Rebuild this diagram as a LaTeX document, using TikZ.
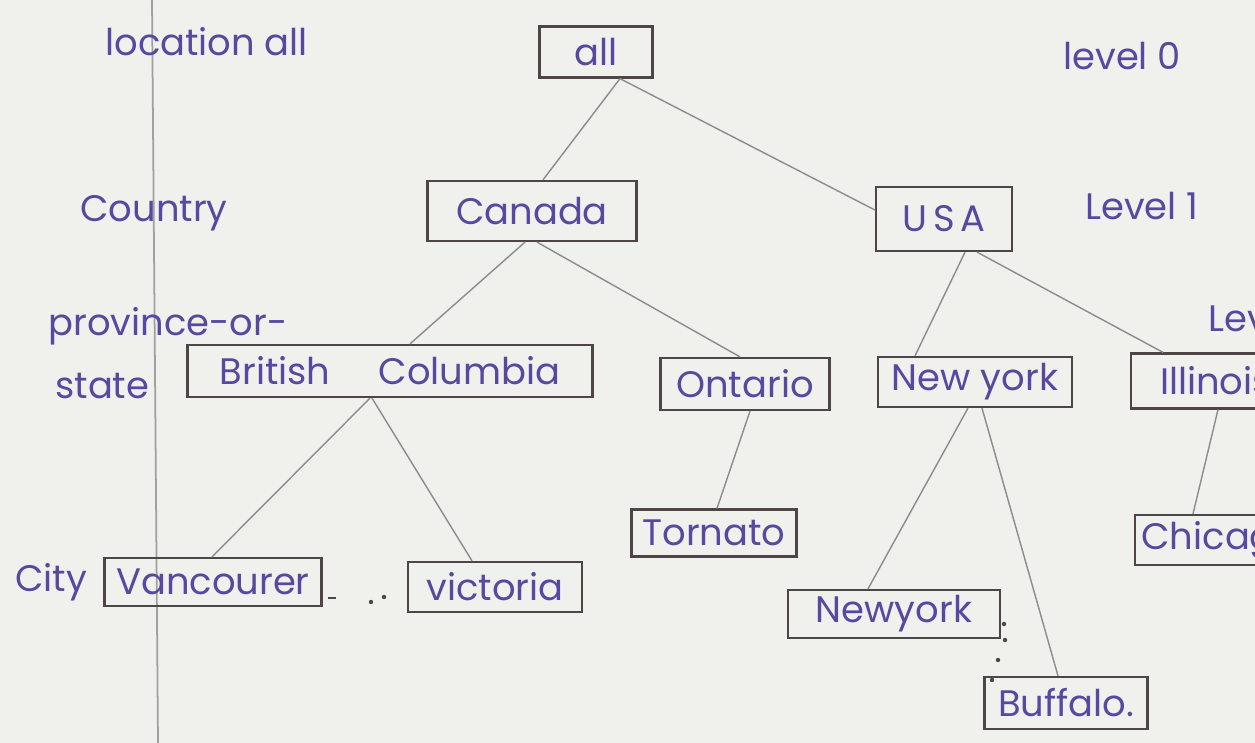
\documentclass[tikz,border=0pt]{standalone}
\usepackage{fontspec}
\setmainfont{Poppins}
\usetikzlibrary{calc}
\definecolor{paper}{RGB}{240,240,237}
\definecolor{ink}{RGB}{88,72,160}
\definecolor{boxline}{RGB}{78,70,70}
\definecolor{pencil}{RGB}{140,140,140}
\definecolor{marginline}{RGB}{160,160,160}
\begin{document}
\begin{tikzpicture}[x=0.02cm,y=-0.02cm,
  cbox/.style={draw=boxline, line width=1.3pt, text=ink, inner sep=0pt,
    font=\fontsize{21}{23}\selectfont},
  lvl/.style={text=ink, anchor=west, inner sep=0pt, font=\fontsize{21}{23}\selectfont},
  link/.style={draw=pencil, line width=0.8pt},
  inkdot/.style={fill=boxline}]
  % page
  \useasboundingbox (0,0) rectangle (1255,743);
  \clip (0,0) rectangle (1255,743);
  \fill[paper] (0,0) rectangle (1255,743);
  \draw[marginline, line width=1pt] (152,0) -- (158,743);

  % hierarchy boxes
  \node[cbox, minimum width=2.26cm, minimum height=1.02cm] (all) at (596,52) {all};
  \node[cbox, minimum width=4.18cm, minimum height=1.2cm] (canada) at (532,211) {Canada};
  \node[cbox, minimum width=2.72cm, minimum height=1.28cm] (usa) at (944,219) {U\,S\,A};
  \node[cbox, minimum width=8.1cm, minimum height=1.04cm] (bc) at (390,371) {British\hspace{1.3em}Columbia};
  \node[cbox, minimum width=3.38cm, minimum height=1.04cm] (ontario) at (745,384) {Ontario};
  \node[cbox, minimum width=3.88cm, minimum height=1.0cm] (nystate) at (975,382) {New york};
  \node[cbox, minimum width=3.4cm, minimum height=1.1cm] (illinois) at (1216,381) {Illinois};
  \node[cbox, minimum width=3.3cm, minimum height=0.94cm] (tornato) at (714,533) {Tornato};
  \node[cbox, minimum width=3.4cm, minimum height=1.0cm] (chicago) at (1220,540) {Chicago};
  \node[cbox, minimum width=4.34cm, minimum height=0.96cm] (vancourer) at (213,582) {Vancourer};
  \node[cbox, minimum width=3.48cm, minimum height=1.0cm] (victoria) at (495,587) {victoria};
  \node[cbox, minimum width=4.24cm, minimum height=0.96cm] (nycity) at (894,614) {Newyork};
  \node[cbox, minimum width=3.26cm, minimum height=1.04cm] (buffalo) at (1066,703) {Buffalo.};

  % connectors
  \draw[link] ($(all.south)+(24,0)$) -- ($(canada.north)+(11,0)$);
  \draw[link] ($(all.south)+(24,0)$) -- ($(usa.west)+(0,-9)$);
  \draw[link] ($(canada.south)+(-7,0)$) -- ($(bc.north)+(20,0)$);
  \draw[link] ($(canada.south)+(5,0)$) -- ($(ontario.north)+(-5,0)$);
  \draw[link] ($(usa.south)+(21,0)$) -- ($(nystate.north)+(-60,0)$);
  \draw[link] ($(usa.south)+(33,0)$) -- ($(illinois.north)+(-53,0)$);
  \draw[link] ($(bc.south)+(-20,0)$) -- ($(vancourer.north)+(-1,0)$);
  \draw[link] ($(bc.south)+(-18,0)$) -- ($(victoria.north)+(-23,0)$);
  \draw[link] ($(ontario.south)+(5,0)$) -- ($(tornato.north)+(3,0)$);
  \draw[link] ($(nystate.south)+(-7,0)$) -- ($(nycity.north)+(-26,0)$);
  \draw[link] ($(nystate.south)+(7,0)$) -- ($(buffalo.north)+(-8,0)$);
  \draw[link] ($(illinois.south)+(2,0)$) -- ($(chicago.north)+(-27,0)$);

  % elision marks
  \draw[boxline, line width=1.2pt] (328,598) -- (336,598);
  \fill[inkdot] (371,602) circle (2.2);
  \fill[inkdot] (384,597) circle (2.2);
  \fill[inkdot] (1004,624) circle (2.2);
  \fill[inkdot] (1005,640) circle (2.2);
  \fill[inkdot] (998,660) circle (2.2);
  \fill[inkdot] (992,680) circle (2.2);

  % level names
  \node[lvl] (llocation) at (105,42) {location all};
  \node[lvl] (lcountry) at (80,213) {Country};
  \node[lvl] (lprov) at (48,326) {province-or-};
  \node[lvl] (lstate) at (55,386) {state};
  \node[lvl] (lcity) at (15,582) {City};
  \node[lvl] (lev0) at (1063,56) {level 0};
  \node[lvl] (lev1) at (1085,206) {Level 1};
  \node[lvl] (lev2) at (1208,318) {Level 2};
\end{tikzpicture}
\end{document}
